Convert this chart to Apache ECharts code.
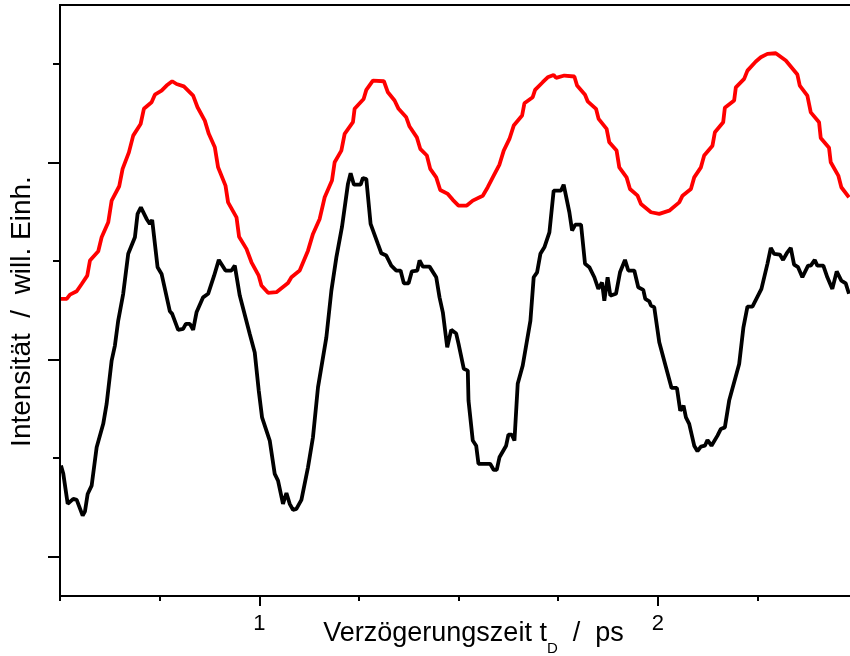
<!DOCTYPE html>
<html>
<head>
<meta charset="utf-8">
<script src="https://cdn.jsdelivr.net/npm/echarts@6/dist/echarts.min.js"></script>
<style>html,body{margin:0;padding:0;background:#fff;}#chart{width:850px;height:656px;}</style>
</head>
<body>
<div id="chart"></div>
<script>
// Delay time t_D (ps) vs intensity (arb. units)
const redTrace = [[0.5025,1.308],[0.5168,1.308],[0.5251,1.330],[0.5419,1.347],[0.5544,1.384],[0.5684,1.426],[0.5752,1.503],[0.5960,1.550],[0.6045,1.621],[0.6211,1.697],[0.6296,1.807],[0.6486,1.880],[0.6571,1.968],[0.6729,2.052],[0.6837,2.137],[0.7023,2.196],[0.7105,2.273],[0.7298,2.306],[0.7381,2.345],[0.7549,2.365],[0.7674,2.391],[0.7815,2.413],[0.7925,2.399],[0.8108,2.387],[0.8341,2.340],[0.8451,2.281],[0.8634,2.213],[0.8734,2.146],[0.8885,2.078],[0.8967,1.976],[0.9153,1.883],[0.9218,1.798],[0.9429,1.722],[0.9494,1.624],[0.9679,1.562],[0.9805,1.494],[0.9987,1.426],[1.0055,1.376],[1.0221,1.339],[1.0431,1.342],[1.0722,1.389],[1.0807,1.418],[1.1015,1.452],[1.1223,1.553],[1.1348,1.638],[1.1516,1.714],[1.1642,1.824],[1.1825,1.909],[1.1892,2.002],[1.2060,2.061],[1.2143,2.146],[1.2351,2.205],[1.2393,2.273],[1.2619,2.323],[1.2687,2.369],[1.2852,2.416],[1.3128,2.413],[1.3228,2.357],[1.3396,2.315],[1.3496,2.273],[1.3689,2.230],[1.3772,2.183],[1.3955,2.128],[1.4040,2.070],[1.4206,2.036],[1.4291,1.968],[1.4441,1.925],[1.4541,1.861],[1.4732,1.841],[1.4857,1.811],[1.5000,1.782],[1.5208,1.782],[1.5358,1.807],[1.5609,1.832],[1.5734,1.875],[1.5860,1.925],[1.6028,1.990],[1.6135,2.061],[1.6278,2.120],[1.6386,2.188],[1.6596,2.239],[1.6654,2.301],[1.6862,2.332],[1.6922,2.369],[1.7113,2.408],[1.7238,2.433],[1.7388,2.445],[1.7449,2.430],[1.7657,2.442],[1.7907,2.437],[1.7975,2.391],[1.8175,2.344],[1.8241,2.311],[1.8451,2.273],[1.8516,2.222],[1.8717,2.171],[1.8784,2.103],[1.8967,2.061],[1.9035,1.976],[1.9218,1.925],[1.9303,1.866],[1.9494,1.832],[1.9579,1.790],[1.9830,1.748],[2.0038,1.740],[2.0288,1.756],[2.0539,1.798],[2.0622,1.832],[2.0832,1.866],[2.0915,1.925],[2.1083,1.976],[2.1165,2.036],[2.1373,2.086],[2.1434,2.154],[2.1642,2.205],[2.1684,2.278],[2.1917,2.315],[2.1960,2.382],[2.2168,2.425],[2.2251,2.467],[2.2461,2.513],[2.2586,2.535],[2.2752,2.552],[2.2962,2.555],[2.3213,2.518],[2.3504,2.447],[2.3564,2.391],[2.3754,2.340],[2.3840,2.255],[2.4048,2.205],[2.4090,2.125],[2.4298,2.075],[2.4341,2.002],[2.4531,1.934],[2.4607,1.875],[2.4799,1.824]];

const blackTrace = [[0.5025,0.462],[0.5083,0.420],[0.5193,0.268],[0.5333,0.293],[0.5419,0.288],[0.5569,0.208],[0.5627,0.230],[0.5694,0.318],[0.5794,0.360],[0.5920,0.555],[0.6085,0.674],[0.6170,0.775],[0.6296,0.995],[0.6378,1.071],[0.6461,1.198],[0.6586,1.334],[0.6712,1.537],[0.6880,1.621],[0.6947,1.740],[0.7030,1.773],[0.7173,1.714],[0.7256,1.689],[0.7313,1.709],[0.7449,1.469],[0.7549,1.435],[0.7757,1.245],[0.7815,1.232],[0.7965,1.151],[0.8090,1.156],[0.8158,1.181],[0.8258,1.181],[0.8341,1.151],[0.8426,1.240],[0.8591,1.316],[0.8717,1.334],[0.8867,1.426],[0.8985,1.506],[0.9153,1.452],[0.9303,1.452],[0.9386,1.477],[0.9511,1.325],[0.9762,1.130],[0.9887,1.036],[0.9987,0.843],[1.0070,0.707],[1.0263,0.589],[1.0388,0.420],[1.0471,0.386],[1.0596,0.268],[1.0682,0.323],[1.0764,0.268],[1.0847,0.237],[1.0932,0.242],[1.1058,0.288],[1.1223,0.453],[1.1348,0.606],[1.1474,0.859],[1.1684,1.113],[1.1810,1.350],[1.1935,1.519],[1.2075,1.672],[1.2226,1.892],[1.2293,1.946],[1.2376,1.888],[1.2544,1.888],[1.2602,1.922],[1.2687,1.917],[1.2794,1.689],[1.2977,1.587],[1.3063,1.540],[1.3188,1.528],[1.3313,1.477],[1.3439,1.452],[1.3546,1.452],[1.3629,1.387],[1.3747,1.387],[1.3830,1.448],[1.3965,1.452],[1.4023,1.503],[1.4105,1.472],[1.4273,1.472],[1.4441,1.418],[1.4524,1.316],[1.4607,1.240],[1.4717,1.062],[1.4817,1.151],[1.4942,1.132],[1.5000,1.081],[1.5133,0.953],[1.5233,0.944],[1.5251,0.792],[1.5358,0.589],[1.5444,0.563],[1.5501,0.471],[1.5794,0.471],[1.5885,0.440],[1.5960,0.440],[1.6028,0.504],[1.6195,0.563],[1.6253,0.619],[1.6336,0.619],[1.6404,0.589],[1.6486,0.877],[1.6612,0.970],[1.6805,1.198],[1.6887,1.418],[1.6972,1.443],[1.7055,1.537],[1.7155,1.570],[1.7281,1.646],[1.7388,1.858],[1.7574,1.858],[1.7639,1.888],[1.7782,1.748],[1.7850,1.655],[1.7932,1.685],[1.8075,1.685],[1.8175,1.486],[1.8283,1.469],[1.8409,1.418],[1.8509,1.359],[1.8601,1.392],[1.8659,1.299],[1.8742,1.418],[1.8810,1.325],[1.8952,1.334],[1.9053,1.443],[1.9178,1.506],[1.9261,1.452],[1.9411,1.452],[1.9511,1.367],[1.9637,1.354],[1.9687,1.308],[1.9787,1.296],[1.9830,1.274],[1.9912,1.266],[2.0038,1.088],[2.0206,0.961],[2.0346,0.856],[2.0481,0.856],[2.0564,0.741],[2.0647,0.766],[2.0707,0.707],[2.0789,0.674],[2.0915,0.563],[2.0997,0.535],[2.1083,0.558],[2.1183,0.563],[2.1248,0.592],[2.1348,0.563],[2.1499,0.614],[2.1584,0.648],[2.1684,0.656],[2.1792,0.792],[2.2043,0.978],[2.2150,1.164],[2.2251,1.269],[2.2376,1.269],[2.2602,1.359],[2.2752,1.486],[2.2837,1.567],[2.2920,1.537],[2.3063,1.533],[2.3145,1.506],[2.3238,1.540],[2.3338,1.567],[2.3421,1.482],[2.3521,1.469],[2.3629,1.418],[2.3772,1.477],[2.3840,1.477],[2.3940,1.506],[2.4005,1.477],[2.4155,1.477],[2.4256,1.418],[2.4381,1.359],[2.4491,1.448],[2.4607,1.401],[2.4717,1.387],[2.4799,1.334]];

const xMajorTicks = [1, 2];
const xMinorTicks = [0.5, 0.75, 1.25, 1.5, 1.75, 2.25, 2.5];
const yMajorTicks = [0, 1, 2];
const yMinorTicks = [0.5, 1.5, 2.5];

const FONT = 'Liberation Sans, Arial, sans-serif';
const chart = echarts.init(document.getElementById('chart'), null, {renderer: 'canvas'});

const xBase = {
  type: 'value', min: 0.5, max: 2.5, position: 'bottom',
  splitLine: {show: false},
  axisLine: {onZero: false, lineStyle: {color: '#000', width: 2}}
};
const yBase = {
  type: 'value', min: -0.2, max: 2.8, position: 'left',
  splitLine: {show: false},
  axisLine: {onZero: false, lineStyle: {color: '#000', width: 2}}
};

chart.setOption({
  animation: false,
  backgroundColor: '#fff',
  textStyle: {fontFamily: FONT},
  grid: {left: 60, right: -7, top: 5, bottom: 60, containLabel: false, outerBoundsMode: 'none',
         show: true, borderColor: '#000', borderWidth: 2, backgroundColor: 'transparent'},
  xAxis: [
    Object.assign({}, xBase, {
      interval: 0.25,
      axisTick: {show: true, length: 10, customValues: xMajorTicks, lineStyle: {color: '#000', width: 2}},
      axisLabel: {show: true, margin: 17, color: '#000', fontSize: 22, fontFamily: FONT,
                  showMinLabel: true, showMaxLabel: true, hideOverlap: false,
                  formatter: function (v) { return xMajorTicks.indexOf(v) >= 0 ? String(v) : ''; }},
      name: '{a|Verzögerungszeit t}{s|D}{a|  /  ps}',
      nameLocation: 'middle', nameGap: 24, nameMoveOverlap: false,
      nameTextStyle: {
        padding: [0, 0, 0, 30],
        rich: {
          a: {fontSize: 27, lineHeight: 30, verticalAlign: 'top', color: '#000', fontFamily: FONT},
          s: {fontSize: 15, lineHeight: 15, padding: [21, 0, 0, 0], verticalAlign: 'top', color: '#000', fontFamily: FONT}
        }
      }
    }),
    Object.assign({}, xBase, {
      axisLine: {show: false, onZero: false},
      axisTick: {show: true, length: 5, customValues: xMinorTicks, lineStyle: {color: '#000', width: 2}},
      axisLabel: {show: false}
    })
  ],
  yAxis: [
    Object.assign({}, yBase, {
      axisTick: {show: true, length: 12, customValues: yMajorTicks, lineStyle: {color: '#000', width: 2}},
      axisLabel: {show: false},
      name: 'Intensität  /  will. Einh.',
      nameLocation: 'middle', nameGap: 24, nameMoveOverlap: false,
      nameTextStyle: {fontSize: 28, lineHeight: 28, color: '#000', fontFamily: FONT, padding: [0, 22, 0, 0]}
    }),
    Object.assign({}, yBase, {
      axisLine: {show: false, onZero: false},
      axisTick: {show: true, length: 7, customValues: yMinorTicks, lineStyle: {color: '#000', width: 2}},
      axisLabel: {show: false}
    })
  ],
  series: [
    {type: 'line', name: 'red', data: redTrace, xAxisIndex: 0, yAxisIndex: 0, showSymbol: false, symbol: 'none',
     lineStyle: {color: '#ff0000', width: 3.8}, itemStyle: {color: '#ff0000'}, z: 3},
    {type: 'line', name: 'black', data: blackTrace, xAxisIndex: 0, yAxisIndex: 0, showSymbol: false, symbol: 'none',
     lineStyle: {color: '#000000', width: 3.8}, itemStyle: {color: '#000000'}, z: 3}
  ]
});
</script>
</body>
</html>
